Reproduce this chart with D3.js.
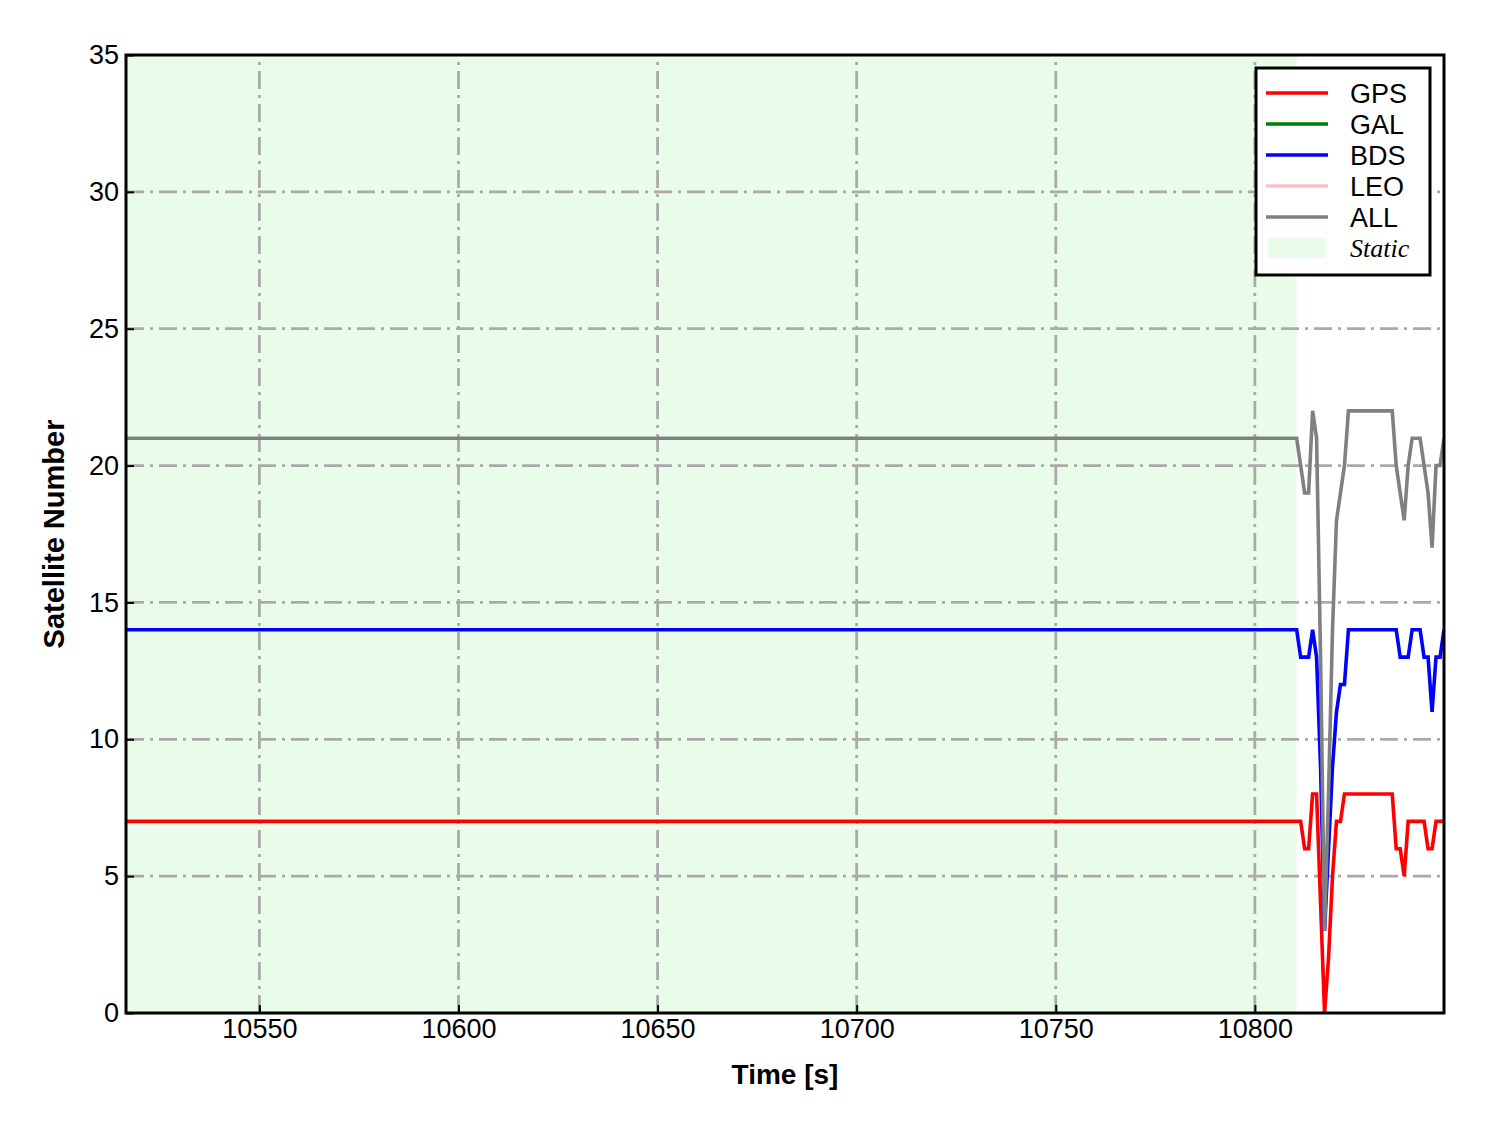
<!DOCTYPE html>
<html>
<head>
<meta charset="utf-8">
<script src="https://cdn.jsdelivr.net/npm/d3@7/dist/d3.min.js"></script>
<style>
  body { margin: 0; background: #fff; }
  svg { display: block; font-family: "Liberation Sans", Arial, sans-serif; }
</style>
</head>
<body>
<svg id="chart" width="1488" height="1133"></svg>
<script>
// ---------- data ----------
// epochs (s); long flat static part then the kinematic tail
const times = [10516.5,
  10810.5, 10811.5, 10812.5, 10813.5, 10814.5, 10815.5, 10816.5, 10817.5, 10818.5, 10819.5,
  10820.5, 10821.5, 10822.5, 10823.5, 10824.5, 10825.5, 10826.5, 10827.5, 10828.5, 10829.5,
  10830.5, 10831.5, 10832.5, 10833.5, 10834.5, 10835.5, 10836.5, 10837.5, 10838.5, 10839.5,
  10840.5, 10841.5, 10842.5, 10843.5, 10844.5, 10845.5, 10846.5, 10847.5];

const gpsSats = [7,
  7, 7, 6, 6, 8, 8, 4, 0, 2, 5,
  7, 7, 8, 8, 8, 8, 8, 8, 8, 8,
  8, 8, 8, 8, 8, 6, 6, 5, 7, 7,
  7, 7, 7, 6, 6, 7, 7, 7];

const galSats = [];   // no GAL data in this span
const leoSats = [];   // no LEO data in this span

const bdsSats = [14,
  14, 13, 13, 13, 14, 13, 9, 3, 6, 9,
  11, 12, 12, 14, 14, 14, 14, 14, 14, 14,
  14, 14, 14, 14, 14, 14, 13, 13, 13, 14,
  14, 14, 13, 13, 11, 13, 13, 14];

const allSats = [21,
  21, 20, 19, 19, 22, 21, 13, 3, 8, 14,
  18, 19, 20, 22, 22, 22, 22, 22, 22, 22,
  22, 22, 22, 22, 22, 20, 19, 18, 20, 21,
  21, 21, 20, 19, 17, 20, 20, 21];

const staticSpan = [10516.5, 10810.5];

const xTicks = [10550, 10600, 10650, 10700, 10750, 10800];
const yTicks = [0, 5, 10, 15, 20, 25, 30, 35];

const seriesNames  = ["GPS", "GAL", "BDS", "LEO", "ALL"];
const seriesColors = ["#ff0000", "#008000", "#0000ff", "#ffc0cb", "#808080"];
const seriesData   = [gpsSats, galSats, bdsSats, leoSats, allSats];

// ---------- layout ----------
const svg = d3.select("#chart");
const plot = { left: 126, right: 1444, top: 55, bottom: 1013 };

const x = d3.scaleLinear().domain([times[0], times[times.length - 1]]).range([plot.left, plot.right]);
const y = d3.scaleLinear().domain([0, 35]).range([plot.bottom, plot.top]);

svg.append("defs").append("clipPath").attr("id", "clip")
  .append("rect")
  .attr("x", plot.left).attr("y", plot.top)
  .attr("width", plot.right - plot.left).attr("height", plot.bottom - plot.top);

// static shading
svg.append("rect")
  .attr("x", x(staticSpan[0]))
  .attr("y", plot.top)
  .attr("width", x(staticSpan[1]) - x(staticSpan[0]))
  .attr("height", plot.bottom - plot.top)
  .attr("fill", "rgb(233,252,233)");

// grid
const grid = svg.append("g").attr("stroke", "#aaaaaa").attr("stroke-width", 2.8)
  .attr("stroke-dasharray", "18,6,3,6");
grid.selectAll(".gx").data(xTicks).enter().append("line")
  .attr("x1", d => x(d)).attr("x2", d => x(d))
  .attr("y1", plot.bottom).attr("y2", plot.top);
grid.selectAll(".gy").data(yTicks.filter(d => d > 0 && d < 35)).enter().append("line")
  .attr("y1", d => y(d)).attr("y2", d => y(d))
  .attr("x1", plot.left).attr("x2", plot.right);

// series lines
const line = d3.line()
  .x((d, i) => x(times[i]))
  .y(d => y(d));

const lines = svg.append("g").attr("clip-path", "url(#clip)");
seriesData.forEach(function(vals, k) {
  if (!vals.length) return;
  lines.append("path")
    .datum(vals)
    .attr("d", line)
    .attr("fill", "none")
    .attr("stroke", seriesColors[k])
    .attr("stroke-width", 3.6)
    .attr("stroke-linejoin", "miter");
});

// axes (ticks pointing in)
const xAxis = svg.append("g")
  .attr("transform", "translate(0," + plot.bottom + ")")
  .call(d3.axisBottom(x).tickValues(xTicks).tickSize(-8).tickPadding(6).tickFormat(d3.format("d")));
const yAxis = svg.append("g")
  .attr("transform", "translate(" + plot.left + ",0)")
  .call(d3.axisLeft(y).tickValues(yTicks).tickSize(-8).tickPadding(7));

[xAxis, yAxis].forEach(function(a) {
  a.select(".domain").remove();
  a.selectAll(".tick line").attr("stroke", "#000").attr("stroke-width", 2);
  a.selectAll(".tick text").attr("fill", "#000")
    .style("font-size", "27px")
    .style("font-family", "'Liberation Sans', Arial, sans-serif");
});

// frame
svg.append("rect")
  .attr("x", plot.left).attr("y", plot.top)
  .attr("width", plot.right - plot.left).attr("height", plot.bottom - plot.top)
  .attr("fill", "none").attr("stroke", "#000").attr("stroke-width", 3);

// axis labels
svg.append("text")
  .attr("x", (plot.left + plot.right) / 2)
  .attr("y", 1084)
  .attr("text-anchor", "middle")
  .style("font-size", "28px").style("font-weight", "bold")
  .text("Time [s]");

svg.append("text")
  .attr("transform", "translate(64," + ((plot.top + plot.bottom) / 2) + ") rotate(-90)")
  .attr("text-anchor", "middle")
  .style("font-size", "29px").style("font-weight", "bold")
  .text("Satellite Number");

// legend
const legend = svg.append("g").attr("transform", "translate(1256,68)");
legend.append("rect")
  .attr("width", 174).attr("height", 207)
  .attr("fill", "#fff").attr("stroke", "#000").attr("stroke-width", 3);

const rowY = d3.scaleLinear().domain([0, 5]).range([25, 180]);
seriesNames.forEach(function(name, i) {
  legend.append("line")
    .attr("x1", 10).attr("x2", 72)
    .attr("y1", rowY(i)).attr("y2", rowY(i))
    .attr("stroke", seriesColors[i]).attr("stroke-width", 3.6);
  legend.append("text")
    .attr("x", 94).attr("y", rowY(i))
    .attr("dy", "0.36em")
    .style("font-size", "27px")
    .text(name);
});
legend.append("rect")
  .attr("x", 12).attr("y", rowY(5) - 10)
  .attr("width", 58).attr("height", 20)
  .attr("fill", "rgb(233,252,233)");
legend.append("text")
  .attr("x", 94).attr("y", rowY(5))
  .attr("dy", "0.36em")
  .style("font-size", "26px")
  .style("font-style", "italic")
  .style("font-family", "'Liberation Serif', 'Times New Roman', serif")
  .text("Static");
</script>
</body>
</html>
